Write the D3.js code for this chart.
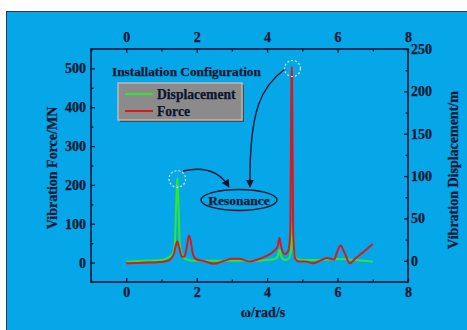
<!DOCTYPE html>
<html>
<head>
<meta charset="utf-8">
<script src="https://cdn.jsdelivr.net/npm/d3@7"></script>
<style>
body { margin: 0; background: #fff; }
svg text { font-family: "Liberation Serif", "Times New Roman", serif; font-weight: bold; fill: #0b1630; stroke: #0b1630; stroke-width: 0.25; }
</style>
</head>
<body>
<svg id="chart" width="467" height="330"></svg>
<script>
// force curve (left axis, MN)
var forceX = [0, 0.3, 0.6, 0.9, 1.1, 1.25, 1.35, 1.42, 1.45, 1.5, 1.58, 1.65, 1.72, 1.78, 1.82, 1.9, 2.0, 2.2, 2.5, 2.8, 3.0, 3.2, 3.5, 3.8, 4.0, 4.2, 4.3, 4.35, 4.4, 4.5, 4.6, 4.66, 4.69, 4.7, 4.71, 4.74, 4.8, 4.9, 5.1, 5.3, 5.5, 5.7, 5.9, 6.0, 6.08, 6.2, 6.35, 6.5, 6.7, 6.9, 7.0];
var forceY = [-2, -1, 0, 1, 3, 8, 22, 48, 54, 40, 15, 15, 40, 70, 60, 20, 8, 4, -3, 5, 10, 10, 3, 10, 18, 30, 42, 63, 40, 22, 30, 80, 470, 504, 470, 80, 10, 3, 3, -2, 5, 12, 8, 30, 44, 25, -2, 10, 25, 40, 48];

// displacement curve (right axis, m)
var dispX = [0, 0.5, 1.0, 1.2, 1.3, 1.38, 1.42, 1.45, 1.48, 1.52, 1.6, 1.7, 1.9, 2.5, 3.0, 3.5, 4.0, 4.2, 4.3, 4.35, 4.4, 4.5, 4.6, 4.68, 4.72, 4.76, 4.85, 5.0, 5.5, 6.0, 6.5, 7.0];
var dispY = [-1, 0, 1, 4, 7, 20, 70, 98, 70, 20, 5, 2, 0, 0, 0, 0, 1, 2, 5, 13, 5, 1, 2, 12, 45, 12, 2, 1, 1, 2, 1, -1];

var xTicks = [0, 2, 4, 6, 8];
var xMinor = [-1, 1, 3, 5, 7];
var leftTicks = [0, 100, 200, 300, 400, 500];
var leftMinor = [-50, 50, 150, 250, 350, 450, 550];
var rightTicks = [0, 50, 100, 150, 200, 250];
var rightMinor = [-25, 25, 75, 125, 175, 225];

var ink = "#0b1630";
var svg = d3.select("#chart");

// blue panel
svg.append("rect").attr("x", 6.5).attr("y", 11.5).attr("width", 470).attr("height", 330)
  .attr("fill", "#06a7e8").attr("stroke", "#2a3a4a").attr("stroke-width", 1);

var x = d3.scaleLinear().domain([-1, 8]).range([91, 408]);
var yL = d3.scaleLinear().domain([-50, 550]).range([282, 49]);
var yR = d3.scaleLinear().domain([-25, 250]).range([282, 49]);

function styleAxis(g) {
  g.select(".domain").remove();
  g.selectAll("line").attr("stroke", ink).attr("stroke-width", 1.3);
  g.selectAll("text").attr("font-size", 14).attr("fill", ink)
    .style("font-family", "'Liberation Serif', serif").style("font-weight", "bold");
}

svg.append("g").attr("transform", "translate(0,282)")
  .call(d3.axisBottom(x).tickValues(xTicks).tickSizeInner(-4).tickSizeOuter(0).tickPadding(5)).call(styleAxis);
svg.append("g").attr("transform", "translate(0,49)")
  .call(d3.axisTop(x).tickValues(xTicks).tickSizeInner(-4).tickSizeOuter(0).tickPadding(7)).call(styleAxis);
svg.append("g").attr("transform", "translate(91,0)")
  .call(d3.axisLeft(yL).tickValues(leftTicks).tickSizeInner(-4).tickSizeOuter(0).tickPadding(5)).call(styleAxis);
svg.append("g").attr("transform", "translate(408,0)")
  .call(d3.axisRight(yR).tickValues(rightTicks).tickSizeInner(-4).tickSizeOuter(0).tickPadding(3)).call(styleAxis);

// minor ticks
svg.append("g").attr("transform", "translate(0,282)")
  .call(d3.axisBottom(x).tickValues(xMinor).tickSize(-2.5).tickFormat("")).call(styleAxis);
svg.append("g").attr("transform", "translate(0,49)")
  .call(d3.axisTop(x).tickValues(xMinor).tickSize(-2.5).tickFormat("")).call(styleAxis);
svg.append("g").attr("transform", "translate(91,0)")
  .call(d3.axisLeft(yL).tickValues(leftMinor).tickSize(-2.5).tickFormat("")).call(styleAxis);
svg.append("g").attr("transform", "translate(408,0)")
  .call(d3.axisRight(yR).tickValues(rightMinor).tickSize(-2.5).tickFormat("")).call(styleAxis);

// frame
svg.append("rect").attr("x", 91).attr("y", 49).attr("width", 317).attr("height", 233)
  .attr("fill", "none").attr("stroke", ink).attr("stroke-width", 1.6);

// curves
var dispLine = d3.line().x(d => x(d[0])).y(d => yR(d[1])).curve(d3.curveMonotoneX);
var forceLine = d3.line().x(d => x(d[0])).y(d => yL(d[1])).curve(d3.curveMonotoneX);

svg.append("path").datum(d3.zip(dispX, dispY)).attr("d", dispLine)
  .attr("fill", "none").attr("stroke", "#2ee82e").attr("stroke-width", 2);
svg.append("path").datum(d3.zip(forceX, forceY)).attr("d", forceLine)
  .attr("fill", "none").attr("stroke", "#d8191f").attr("stroke-width", 2);

// titles
svg.append("text").attr("transform", "translate(57,168) rotate(-90)").attr("text-anchor", "middle")
  .attr("font-size", 14).text("Vibration Force/MN");
svg.append("text").attr("transform", "translate(458,170) rotate(-90)").attr("text-anchor", "middle")
  .attr("font-size", 14).text("Vibration Displacement/m");
svg.append("text").attr("x", 263).attr("y", 317).attr("text-anchor", "middle")
  .attr("font-size", 14).text("ω/rad/s");

// legend
svg.append("text").attr("x", 112).attr("y", 76).attr("font-size", 13.3).text("Installation Configuration");
svg.append("rect").attr("x", 120).attr("y", 85).attr("width", 124).attr("height", 37).attr("fill", "#4a4a4a");
svg.append("rect").attr("x", 118).attr("y", 83).attr("width", 124).attr("height", 37)
  .attr("fill", "#8b8b8b").attr("stroke", "#b9b9b9").attr("stroke-width", 1.5);
svg.append("line").attr("x1", 125).attr("x2", 153).attr("y1", 94).attr("y2", 94)
  .attr("stroke", "#2ee82e").attr("stroke-width", 2);
svg.append("line").attr("x1", 125).attr("x2", 153).attr("y1", 111).attr("y2", 111)
  .attr("stroke", "#d8191f").attr("stroke-width", 2);
svg.append("text").attr("x", 157).attr("y", 99).attr("font-size", 13.6).text("Displacement");
svg.append("text").attr("x", 157).attr("y", 116).attr("font-size", 13.6).text("Force");

// annotations
var defs = svg.append("defs");
defs.append("marker").attr("id", "arr").attr("viewBox", "0 0 10 10").attr("refX", 9).attr("refY", 5)
  .attr("markerWidth", 8).attr("markerHeight", 8).attr("markerUnits", "userSpaceOnUse").attr("orient", "auto")
  .append("path").attr("d", "M0,0 L10,5 L0,10 Z").attr("fill", ink);

svg.append("path").attr("d", "M183,171 C205,166 220,172 229,187")
  .attr("fill", "none").attr("stroke", ink).attr("stroke-width", 1.4).attr("marker-end", "url(#arr)");
svg.append("path").attr("d", "M285,69 C262,86 249,108 250,187")
  .attr("fill", "none").attr("stroke", ink).attr("stroke-width", 1.4).attr("marker-end", "url(#arr)");

svg.append("circle").attr("cx", x(1.45)).attr("cy", 179).attr("r", 8.3)
  .attr("fill", "none").attr("stroke", "#e4ecc4").attr("stroke-width", 1.2).attr("stroke-dasharray", "2,2");
svg.append("circle").attr("cx", 292.5).attr("cy", 68.5).attr("r", 8)
  .attr("fill", "none").attr("stroke", "#e4ecc4").attr("stroke-width", 1.2).attr("stroke-dasharray", "2,2");

svg.append("ellipse").attr("cx", 239).attr("cy", 200).attr("rx", 38).attr("ry", 10.5)
  .attr("fill", "none").attr("stroke", ink).attr("stroke-width", 1.4);
svg.append("text").attr("x", 239).attr("y", 204.5).attr("text-anchor", "middle").attr("font-size", 13.5).text("Resonance");
</script>
</body>
</html>
